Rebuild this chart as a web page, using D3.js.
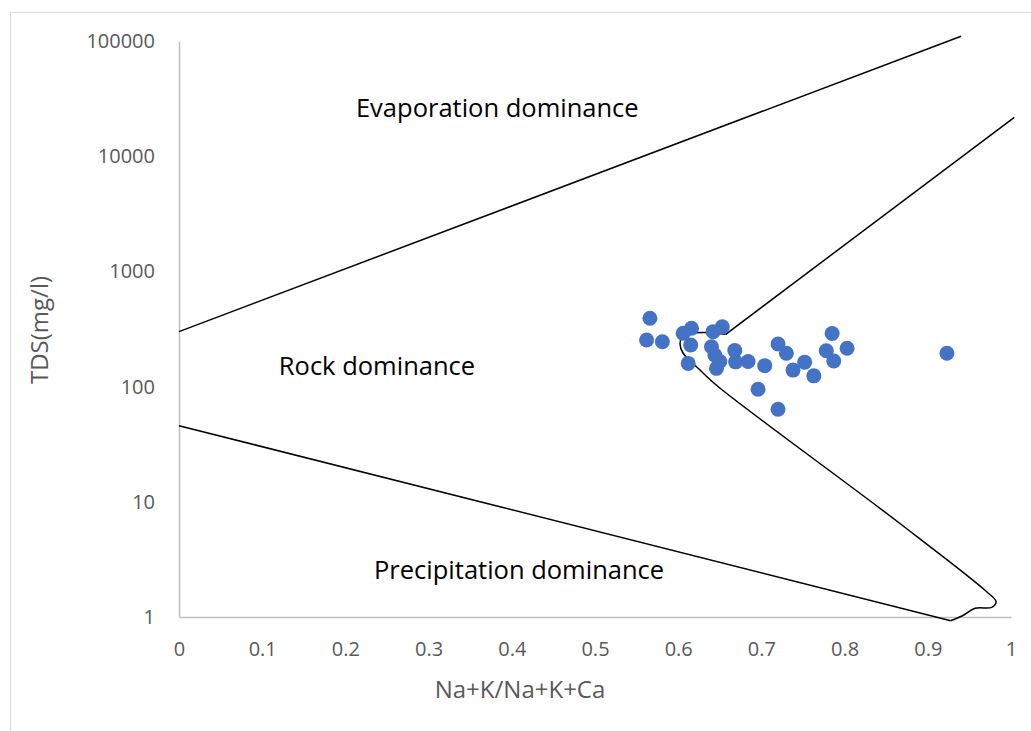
<!DOCTYPE html>
<html>
<head>
<meta charset="utf-8">
<script src="https://cdn.jsdelivr.net/npm/d3@7"></script>
<style>
  html, body { margin: 0; padding: 0; background: #ffffff; }
  svg { display: block; font-family: "Open Sans", "Noto Sans", sans-serif; }
</style>
</head>
<body>
<svg id="chart" width="1031" height="731"></svg>
<script>
// Samples: Na+K/(Na+K+Ca) ratio and TDS (mg/l)
const sampleRatio = [0.566, 0.562, 0.581, 0.606, 0.616, 0.615, 0.612, 0.642, 0.653, 0.640,
                     0.644, 0.650, 0.646, 0.668, 0.669, 0.684, 0.704, 0.720, 0.730, 0.738,
                     0.752, 0.763, 0.696, 0.720, 0.785, 0.778, 0.787, 0.803, 0.923];
const sampleTDS   = [392, 254, 245, 290, 321, 230, 159, 300, 331, 222,
                     188, 165, 144, 206, 164, 165, 152, 234, 195, 139,
                     163, 124, 94.8, 63.5, 289, 205, 167, 215, 195];

// Gibbs boundary: evaporation / rock
const evapBoundRatio = [0, 0.94];
const evapBoundTDS   = [300, 110000];

// Gibbs boundary: rock / precipitation
const precBoundRatio = [0, 0.9275];
const precBoundTDS   = [45.8, 0.929];

// Right-hand envelope: straight upper arm
const envArmRatio = [1.004, 0.6571];
const envArmTDS   = [21770, 284.4];

// Right-hand envelope: curved lower arm
const envCurveRatio = [0.6571, 0.6322, 0.6142, 0.6046, 0.6022, 0.6058, 0.6262, 0.6478,
                       0.8626, 0.9708, 0.9820, 0.9768, 0.9567, 0.9423, 0.9275];
const envCurveTDS   = [284.4, 294.8, 289, 266.9, 234.4, 195.7, 139.3, 100.2,
                       6.81, 1.658, 1.358, 1.214, 1.190, 1.03, 0.929];

const xTicks = [0, 0.1, 0.2, 0.3, 0.4, 0.5, 0.6, 0.7, 0.8, 0.9, 1];
const yTicks = [1, 10, 100, 1000, 10000, 100000];

const zoneLabels = ["Evaporation dominance", "Rock dominance", "Precipitation dominance"];
const zoneRatio  = [0.2127, 0.120, 0.2344];
const zoneTDS    = [26200, 151, 2.56];

const svg = d3.select("#chart");
const W = 1031, H = 731;
const m = { left: 179, top: 41 };
const plotW = 832, plotH = 576;

// outer chart border
svg.append("rect")
  .attr("x", 10.5).attr("y", 12.5)
  .attr("width", W + 20).attr("height", H + 20)
  .attr("fill", "none").attr("stroke", "#d9d9d9").attr("stroke-width", 1);

const x = d3.scaleLinear().domain([0, 1]).range([m.left, m.left + plotW]);
const y = d3.scaleLog().domain([1, 100000]).range([m.top + plotH, m.top]);

// axes
const xAxis = svg.append("g")
  .attr("transform", `translate(0,${m.top + plotH})`)
  .call(d3.axisBottom(x).tickValues(xTicks).tickSize(0).tickPadding(25)
    .tickFormat(d => d === 0 || d === 1 ? String(d) : d3.format(".1f")(d)));
const yAxis = svg.append("g")
  .attr("transform", `translate(${m.left},0)`)
  .call(d3.axisLeft(y).tickValues(yTicks).tickSize(0).tickPadding(24)
    .tickFormat(d3.format("d")));

[xAxis, yAxis].forEach(g => {
  g.select(".domain").attr("stroke", "#bfbfbf").attr("stroke-width", 1.5);
  g.selectAll("text").attr("fill", "#595959").attr("font-size", 20)
    .attr("font-family", "'Open Sans', sans-serif");
});

// axis titles
svg.append("text")
  .attr("x", 520).attr("y", 698)
  .attr("text-anchor", "middle")
  .attr("font-size", 24).attr("fill", "#595959")
  .text("Na+K/Na+K+Ca");
svg.append("text")
  .attr("transform", "translate(48,330) rotate(-90)")
  .attr("text-anchor", "middle")
  .attr("font-size", 24).attr("fill", "#595959")
  .text("TDS(mg/l)");

// boundary lines
const straight = d3.line().x(d => x(d[0])).y(d => y(d[1]));
const smooth = d3.line().x(d => x(d[0])).y(d => y(d[1])).curve(d3.curveCatmullRom.alpha(0.5));
const zip = (a, b) => a.map((v, i) => [v, b[i]]);

const lineStyle = sel => sel.attr("fill", "none").attr("stroke", "#000").attr("stroke-width", 1.5)
  .attr("stroke-linejoin", "round");

svg.append("path").datum(zip(evapBoundRatio, evapBoundTDS)).attr("d", straight).call(lineStyle);
svg.append("path").datum(zip(precBoundRatio, precBoundTDS)).attr("d", straight).call(lineStyle);
svg.append("path").datum(zip(envArmRatio, envArmTDS)).attr("d", straight).call(lineStyle);
svg.append("path").datum(zip(envCurveRatio, envCurveTDS)).attr("d", smooth).call(lineStyle);

// samples
svg.append("g").selectAll("circle")
  .data(zip(sampleRatio, sampleTDS))
  .join("circle")
  .attr("cx", d => x(d[0])).attr("cy", d => y(d[1]))
  .attr("r", 7.5).attr("fill", "#4472c4");

// zone labels
svg.append("g").selectAll("text")
  .data(zoneLabels)
  .join("text")
  .attr("x", (d, i) => x(zoneRatio[i])).attr("y", (d, i) => y(zoneTDS[i]))
  .attr("dy", "0.35em")
  .attr("font-size", 25.5).attr("fill", "#000")
  .text(d => d);
</script>
</body>
</html>
